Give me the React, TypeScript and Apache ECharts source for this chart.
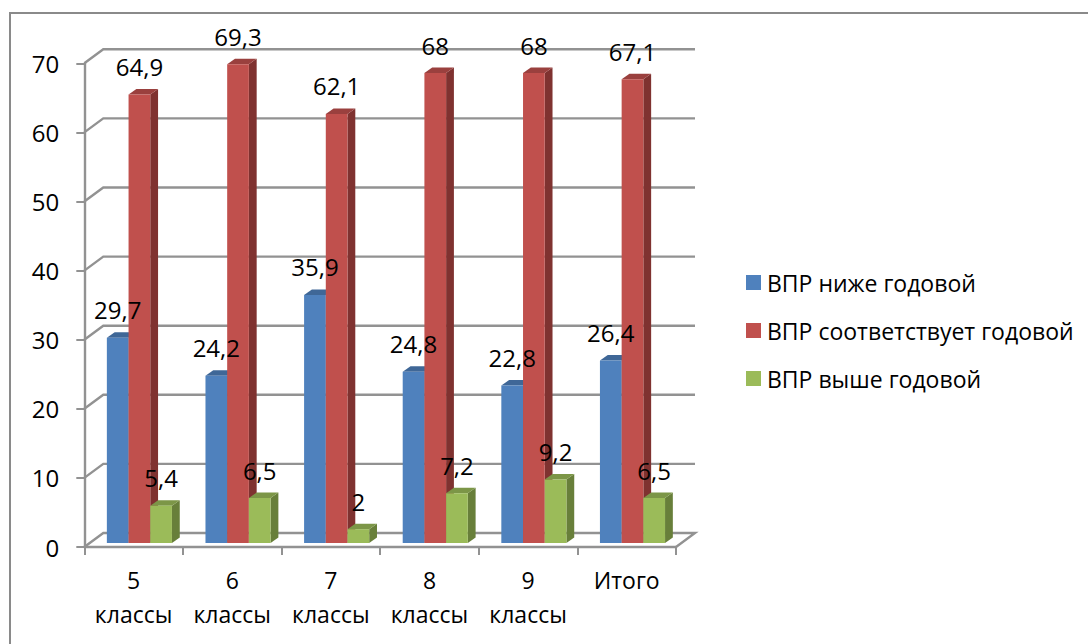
import React, { useEffect, useRef } from "react";
import * as echarts from "echarts";

const categories = ["5\nклассы", "6\nклассы", "7\nклассы", "8\nклассы", "9\nклассы", "Итого"];
const below = [29.7, 24.2, 35.9, 24.8, 22.8, 26.4];
const matches = [64.9, 69.3, 62.1, 68, 68, 67.1];
const above = [5.4, 6.5, 2, 7.2, 9.2, 6.5];
const yTicks = [0, 10, 20, 30, 40, 50, 60, 70];
const seriesNames = ["ВПР ниже годовой", "ВПР соответствует годовой", "ВПР выше годовой"];
const FRONT = ["#4F81BD", "#C0504D", "#9BBB59"];
const TOP = ["#3F6797", "#9A403E", "#7C9647"];
const SIDE = ["#385D8A", "#7F3230", "#687F3A"];
const FONT = "'Open Sans'";
const GRID_COLOR = "#929292";

const BAR_W = 21.7;
const DEPTH_X = 7.8;
const DEPTH_Y = 5.5;
const BASE_DX = 5.8;
const BASE_DY = -4;
const WALL_DX = 19;
const WALL_DY = -14;

function barRender(k: number) {
  return (params: any, api: any) => {
    const idx = api.value(0);
    const val = api.value(1);
    const top = api.coord([idx, val]);
    const base = api.coord([idx, 0]);
    const x0 = top[0] + BASE_DX + (k - 1.5) * BAR_W;
    const x1 = x0 + BAR_W;
    const yT = top[1] + BASE_DY;
    const yB = base[1] + BASE_DY;
    return {
      type: "group",
      children: [
        {
          type: "polygon",
          shape: { points: [[x1, yT], [x1 + DEPTH_X, yT - DEPTH_Y], [x1 + DEPTH_X, yB - DEPTH_Y], [x1, yB]] },
          style: { fill: SIDE[k] },
          z2: k * 3 + 1,
        },
        {
          type: "polygon",
          shape: { points: [[x0, yT], [x0 + DEPTH_X, yT - DEPTH_Y], [x1 + DEPTH_X, yT - DEPTH_Y], [x1, yT]] },
          style: { fill: TOP[k] },
          z2: k * 3 + 1,
        },
        {
          type: "rect",
          shape: { x: x0, y: yT, width: BAR_W, height: yB - yT },
          style: { fill: FRONT[k] },
          z2: k * 3 + 2,
        },
        {
          type: "text",
          x: (x0 + x1) / 2,
          y: yT - 28,
          style: {
            text: String(val).replace(".", ","),
            fill: "#000",
            font: `24px ${FONT}`,
            align: "center",
            verticalAlign: "middle",
          },
          z2: 100,
        },
      ],
    };
  };
}

function wallRender(params: any, api: any) {
  const v = api.value(0);
  const cs = params.coordSys;
  const y = api.coord([0, v])[1];
  const xL = cs.x;
  const xR = cs.x + cs.width;
  const pts: number[][] =
    v === 0
      ? [[xL, y], [xL + WALL_DX, y + WALL_DY], [xR + WALL_DX, y + WALL_DY], [xR, y]]
      : [[xL, y], [xL + WALL_DX, y + WALL_DY], [xR + WALL_DX, y + WALL_DY]];
  return {
    type: "polyline",
    shape: { points: pts },
    style: { stroke: GRID_COLOR, lineWidth: 2.4, fill: "none" },
  };
}

export default function App() {
  const ref = useRef<HTMLDivElement>(null);
  useEffect(() => {
    document.body.style.margin = "0";
    const chart = echarts.init(ref.current!, null, { renderer: "svg" });
    const values = [below, matches, above];
    chart.setOption({
      animation: false,
      backgroundColor: "#fff",
      graphic: [
        {
          type: "rect",
          shape: { x: 10, y: 13, width: 1300, height: 900 },
          style: { fill: "none", stroke: "#8a8a8a", lineWidth: 2 },
          silent: true,
        },
      ],
      legend: {
        orient: "vertical",
        left: 746,
        top: 269,
        padding: 0,
        itemWidth: 15,
        itemHeight: 15,
        itemGap: 21,
        icon: "rect",
        textStyle: { fontFamily: FONT, fontSize: 23, color: "#000", padding: [0, 0, 0, 1], lineHeight: 27 },
        data: seriesNames.map((name, k) => ({ name, itemStyle: { color: FRONT[k] } })),
      },
      grid: { left: 84.3, top: 63.3, width: 591.7, height: 483.7 },
      xAxis: {
        type: "category",
        data: categories,
        boundaryGap: true,
        axisLine: { show: true, lineStyle: { color: GRID_COLOR, width: 2.4 } },
        axisTick: { show: true, alignWithLabel: false, length: 8, lineStyle: { color: GRID_COLOR, width: 2 } },
        axisLabel: { interval: 0, margin: 16, fontFamily: FONT, fontSize: 23, color: "#000", lineHeight: 34 },
      },
      yAxis: {
        type: "value",
        min: yTicks[0],
        max: yTicks[yTicks.length - 1],
        interval: yTicks[1] - yTicks[0],
        splitLine: { show: false },
        axisLine: { show: true, lineStyle: { color: GRID_COLOR, width: 2.4 } },
        axisTick: { show: true, length: 8, lineStyle: { color: GRID_COLOR, width: 2 } },
        axisLabel: { margin: 25, fontFamily: FONT, fontSize: 24, color: "#000", padding: [4, 0, 0, 0] },
      },
      series: [
        {
          type: "custom",
          name: "grid",
          coordinateSystem: "cartesian2d",
          renderItem: wallRender,
          data: yTicks.map((v) => [v]),
          encode: { y: 0 },
          z: 1,
          silent: true,
        },
        ...seriesNames.map((name, k) => ({
          type: "custom",
          name,
          coordinateSystem: "cartesian2d",
          renderItem: barRender(k),
          data: values[k].map((v, i) => [i, v]),
          encode: { x: 0, y: 1 },
          itemStyle: { color: FRONT[k] },
          z: 3,
        })),
      ],
    });
    return () => chart.dispose();
  }, []);
  return <div ref={ref} style={{ width: 1088, height: 644 }} />;
}
